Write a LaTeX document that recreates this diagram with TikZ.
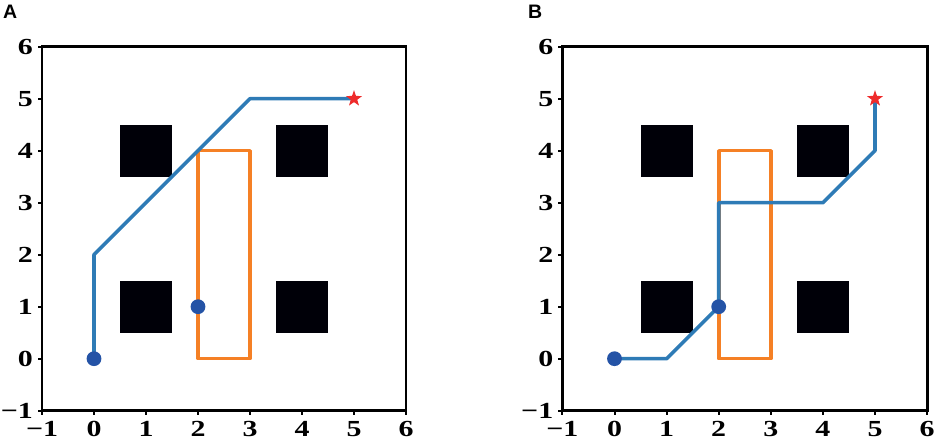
\documentclass[tikz,border=0pt]{standalone}
\usepackage{fontspec}
\setmainfont{Liberation Serif}
\newfontfamily\panelfont{Liberation Sans}
\usetikzlibrary{shapes.geometric}
\definecolor{pathblue}{HTML}{2E7BB6}
\definecolor{dotblue}{HTML}{2453A6}
\definecolor{rectorange}{HTML}{F58025}
\definecolor{starred}{HTML}{EE2B2B}
\newcommand{\ticklab}[1]{\scalebox{1.3}[1]{#1}}
\tikzset{
  frameline/.style={line width=2.8pt},
  tickline/.style={line width=2pt},
  ticklabel/.style={inner sep=0pt, font=\fontsize{23}{23}\selectfont\bfseries},
  panellab/.style={inner sep=0pt, font=\fontsize{19.5}{20}\selectfont\panelfont\bfseries},
  obstacle/.style={fill=black!97!blue},
  region/.style={draw=rectorange, line width=3.6pt, line join=round},
  route/.style={draw=pathblue, line width=3.6pt, line join=round, line cap=round},
  startdot/.style={circle, fill=dotblue, minimum size=14.8pt, inner sep=0pt},
  goalstar/.style={star, star points=5, star point ratio=2.5, fill=starred, minimum size=17pt, inner sep=0pt}
}
\newcommand{\drawaxes}[1]{%
  \foreach \k/\t in {-1/−1,0/0,1/1,2/2,3/3,4/4,5/5,6/6}{
    \draw[tickline] (\k,-1) -- ++(0,-4pt);
    \draw[tickline] (-1,\k) -- ++(-4pt,0);
    \node[ticklabel, anchor=north] (#1x\k) at ([yshift=-10.5pt]\k,-1) {\ticklab{\t}};
    \node[ticklabel, anchor=east] (#1y\k) at ([xshift=-9pt]-1,\k) {\ticklab{\t}};
  }
  \fill[obstacle] (0.5,3.5) rectangle (1.5,4.5);
  \fill[obstacle] (3.5,3.5) rectangle (4.5,4.5);
  \fill[obstacle] (0.5,0.5) rectangle (1.5,1.5);
  \fill[obstacle] (3.5,0.5) rectangle (4.5,1.5);
  \draw[frameline] (-1,-1) rectangle (6,6);
  \draw[region] (2,0) rectangle (3,4);
}
\begin{document}
\begin{tikzpicture}[x=1pt,y=1pt]
\useasboundingbox (0,0) rectangle (935,442);
\node[panellab, anchor=base west] (labA) at (3,423) {A};
\node[panellab, anchor=base west] (labB) at (528,423) {B};
% Panel A
\begin{scope}[shift={(94pt,83.3pt)}, x=52pt, y=52pt]
  \drawaxes{a}
  \coordinate (aS) at (0,0);
  \coordinate (aG) at (5,5);
  \draw[route] (aS) -- (0,2) -- (3,5) -- (aG);
  \node[startdot] (aD0) at (aS) {};
  \node[startdot] (aD1) at (2,1) {};
  \node[goalstar] (aStar) at (aG) {};
\end{scope}
% Panel B
\begin{scope}[shift={(614.5pt,83.3pt)}, x=52.1pt, y=52pt]
  \drawaxes{b}
  \coordinate (bS) at (0,0);
  \coordinate (bG) at (5,5);
  \draw[route] (bS) -- (1,0) -- (2,1) -- (2,3) -- (4,3) -- (5,4) -- (bG);
  \node[startdot] (bD0) at (bS) {};
  \node[startdot] (bD1) at (2,1) {};
  \node[goalstar] (bStar) at (bG) {};
\end{scope}
\end{tikzpicture}
\end{document}
